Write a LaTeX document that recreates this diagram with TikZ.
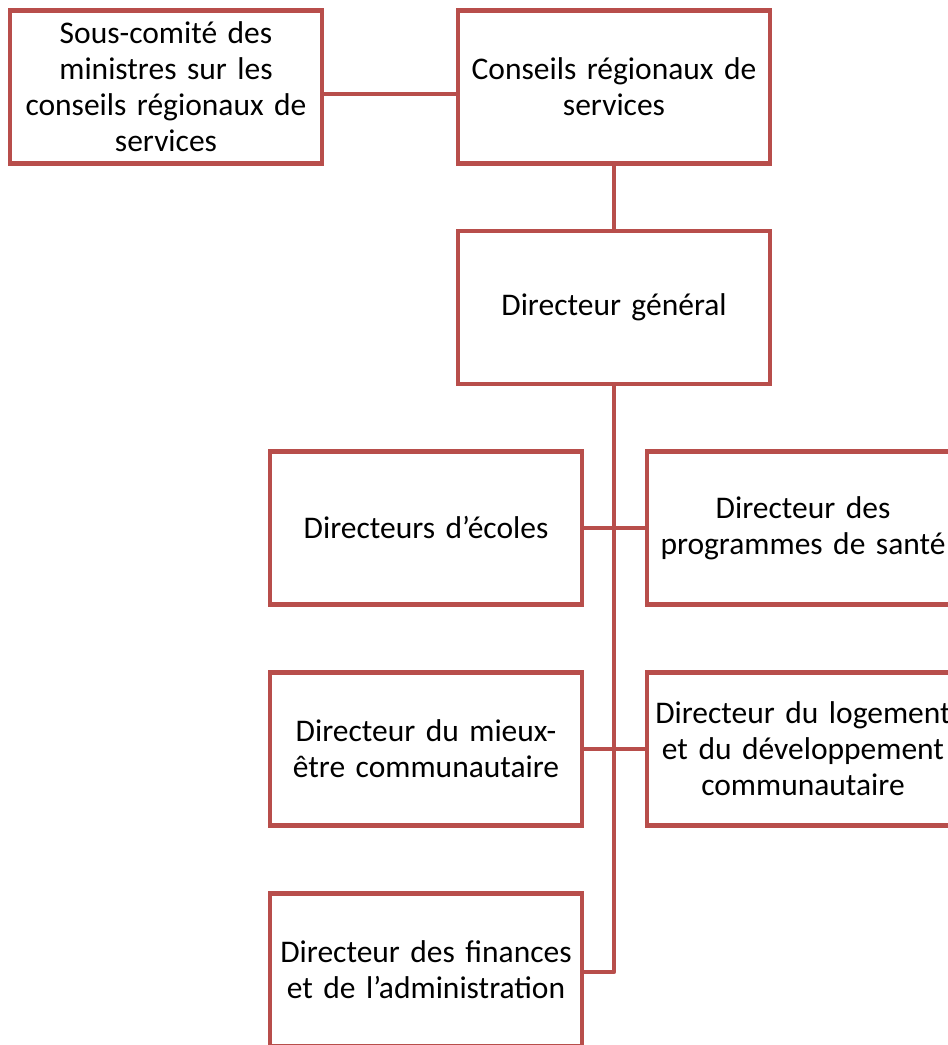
\documentclass[tikz,border=0pt]{standalone}
\usepackage{fontspec}
\setmainfont{Carlito}
\definecolor{boxred}{HTML}{B84E4B}
\tikzset{
  orgbox/.style={draw=boxred, line width=4.5pt, fill=white, rectangle,
    minimum width=312pt, minimum height=153pt, text width=304pt, align=center,
    inner sep=0pt, font=\fontsize{31.5}{36}\selectfont},
  link/.style={draw=boxred, line width=4.5pt}
}
\begin{document}
\begin{tikzpicture}[x=1pt, y=-1pt]
\useasboundingbox (0,0) rectangle (948,1045);
\clip (0,0) rectangle (948,1045);
\fill[white] (0,0) rectangle (948,1045);
% top row
\node[orgbox] (sub) at (166,87) {Sous-comité des\\ministres sur les\\conseils régionaux de\\services};
\node[orgbox] (crs) at (614,87) {Conseils régionaux de\\services};
\node[orgbox] (dg) at (614,307.5) {Directeur général};
% directors
\node[orgbox] (eco) at (426,528) {Directeurs d’écoles};
\node[orgbox] (san) at (803,528) {Directeur des\\programmes de santé};
\node[orgbox] (mie) at (426,749) {Directeur du mieux-\\être communautaire};
\node[orgbox] (log) at (803,749) {Directeur du logement\\et du développement\\communautaire};
\node[orgbox] (fin) at (426,970) {Directeur des finances\\et de l’administration};
% connectors
\draw[link] ([yshift=-7pt]sub.east) -- ([yshift=-7pt]crs.west);
\draw[link] (crs.south) -- (dg.north);
\coordinate (trunkend) at ([yshift=-2pt]fin.east -| dg.south);
\draw[link, line join=round] (dg.south) -- (trunkend) -- ([yshift=-2pt]fin.east);
\draw[link] (eco.east) -- (san.west);
\draw[link] (mie.east) -- (log.west);
\end{tikzpicture}
\end{document}
